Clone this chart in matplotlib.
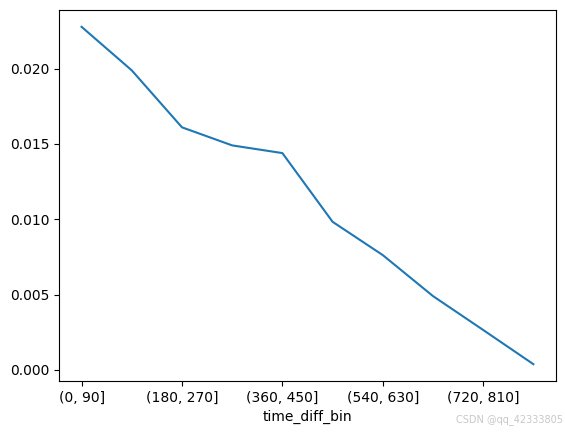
import matplotlib
matplotlib.use("Agg")
import matplotlib.pyplot as plt

# binned time difference -> rate
bins = ['(0, 90]', '(90, 180]', '(180, 270]', '(270, 360]', '(360, 450]',
        '(450, 540]', '(540, 630]', '(630, 720]', '(720, 810]', '(810, 900]']
rate = [0.02277, 0.01988, 0.01610, 0.01490, 0.01439,
        0.00983, 0.00762, 0.00490, 0.00265, 0.00038]

fig = plt.figure(figsize=(5.65, 4.33), dpi=100)
ax = fig.add_axes([0.1044, 0.120, 0.8796, 0.857])

x = list(range(len(bins)))
ax.plot(x, rate)
ax.set_xticks(x[::2])
ax.set_xticklabels(bins[::2])
ax.set_xlabel('time_diff_bin')

fig.text(0.997, 0.018, 'CSDN @qq_42333805', ha='right', va='bottom',
         fontsize=7, color='#c8c8c8')

fig.savefig('out.png', dpi=100)
